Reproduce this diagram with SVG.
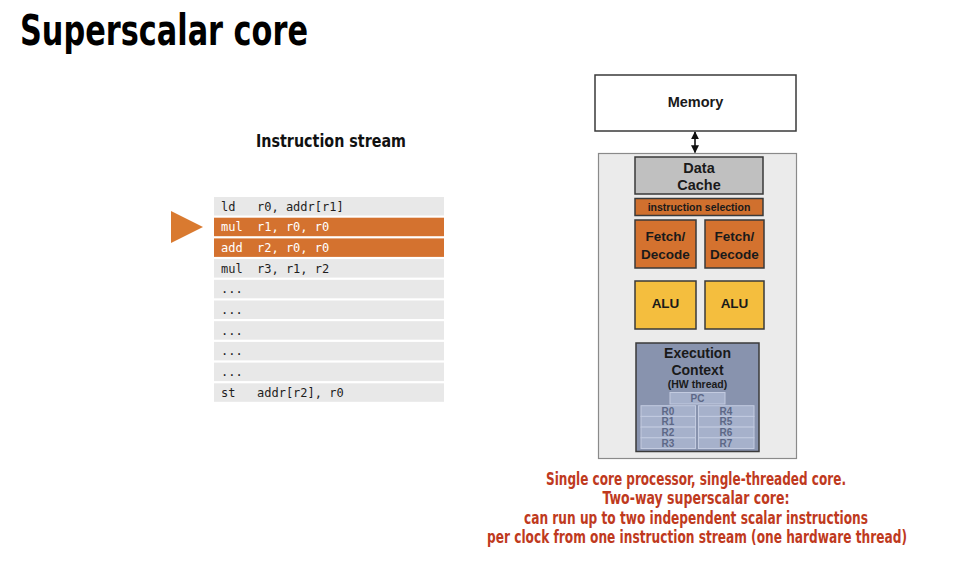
<svg xmlns="http://www.w3.org/2000/svg" width="967" height="561" viewBox="0 0 967 561">
  <defs>
    <style>
      .cond { font-family: "DejaVu Sans", "Liberation Sans", sans-serif; font-stretch: condensed; font-weight: bold; }
      .lbl { font-family: "Liberation Sans", Arial, sans-serif; font-weight: bold; fill: #1a1a1a; text-anchor: middle; }
      .mono { font-family: "DejaVu Sans Mono", "Liberation Mono", monospace; font-size: 12px; fill: #1e1e1e; }
      .hi .mono { fill: #ffffff; }
      .row { fill: #e8e8e8; }
      .hi .row { fill: #d4722f; }
      .box { stroke: #3a3a3a; stroke-width: 1.5; }
      .reg { fill: #a6b1cb; stroke: #c3cbe0; stroke-width: 1; }
      .regtxt { font-family: "Liberation Sans", Arial, sans-serif; font-weight: bold; font-size: 10px; fill: #5d6887; text-anchor: middle; }
      .note { fill: #bf3a1e; font-size: 17px; text-anchor: middle; }
    </style>
    <marker id="head" viewBox="0 0 10 10" refX="9" refY="5" markerWidth="5" markerHeight="5" orient="auto-start-reverse">
      <path d="M0,0 L10,5 L0,10 z" fill="#111"/>
    </marker>
  </defs>

  <rect width="967" height="561" fill="#ffffff"/>

  <!-- slide title -->
  <text class="cond" x="20" y="45" font-size="42" fill="#000" textLength="288" lengthAdjust="spacingAndGlyphs">Superscalar core</text>

  <!-- instruction stream listing -->
  <g id="instruction-stream">
    <text class="cond" x="256" y="147" font-size="18.5" fill="#111" textLength="150" lengthAdjust="spacingAndGlyphs">Instruction stream</text>
    <g id="ins0"><rect class="row" x="214" y="197" width="230" height="18.5"/><text class="mono" x="221" y="210.5">ld</text><text class="mono" x="257" y="210.5">r0, addr[r1]</text></g>
    <g id="ins1" class="hi"><rect class="row" x="214" y="217.7" width="230" height="18.5"/><text class="mono" x="221" y="231.2">mul</text><text class="mono" x="257" y="231.2">r1, r0, r0</text></g>
    <g id="ins2" class="hi"><rect class="row" x="214" y="238.4" width="230" height="18.5"/><text class="mono" x="221" y="251.9">add</text><text class="mono" x="257" y="251.9">r2, r0, r0</text></g>
    <g id="ins3"><rect class="row" x="214" y="259.1" width="230" height="18.5"/><text class="mono" x="221" y="272.6">mul</text><text class="mono" x="257" y="272.6">r3, r1, r2</text></g>
    <g id="ins4"><rect class="row" x="214" y="279.8" width="230" height="18.5"/><text class="mono" x="221" y="293.3">...</text></g>
    <g id="ins5"><rect class="row" x="214" y="300.5" width="230" height="18.5"/><text class="mono" x="221" y="314">...</text></g>
    <g id="ins6"><rect class="row" x="214" y="321.2" width="230" height="18.5"/><text class="mono" x="221" y="334.7">...</text></g>
    <g id="ins7"><rect class="row" x="214" y="341.9" width="230" height="18.5"/><text class="mono" x="221" y="355.4">...</text></g>
    <g id="ins8"><rect class="row" x="214" y="362.6" width="230" height="18.5"/><text class="mono" x="221" y="376.1">...</text></g>
    <g id="ins9"><rect class="row" x="214" y="383.3" width="230" height="18.5"/><text class="mono" x="221" y="396.8">st</text><text class="mono" x="257" y="396.8">addr[r2], r0</text></g>
  </g>

  <!-- current-instruction pointer -->
  <g id="pointer">
    <polygon points="171,211 203,227 171,243" fill="#d97a30"/>
  </g>

  <!-- memory -->
  <g id="memory">
    <rect class="box" x="595" y="75" width="201" height="56" fill="#ffffff"/>
    <text class="lbl" x="695.5" y="107" font-size="14.5">Memory</text>
  </g>

  <!-- memory <-> core link -->
  <g id="connectors">
    <line x1="695" y1="132" x2="695" y2="152.5" stroke="#111" stroke-width="1.6" marker-start="url(#head)" marker-end="url(#head)"/>
  </g>

  <!-- core outline -->
  <g id="core">
    <rect x="598.5" y="153.5" width="198" height="305" fill="#ebebeb" stroke="#8a8a8a" stroke-width="1.2"/>
  </g>

  <g id="data-cache">
    <rect class="box" x="635" y="157" width="128" height="37" fill="#c0c0c0"/>
    <text class="lbl" x="699" y="173" font-size="14.5">Data</text>
    <text class="lbl" x="699" y="189.5" font-size="14.5">Cache</text>
  </g>

  <g id="instruction-selection">
    <rect class="box" x="635" y="198.5" width="128" height="17" fill="#d0702e"/>
    <text class="lbl" x="699" y="210.5" font-size="10.5">instruction selection</text>
  </g>

  <g id="fetch-decode-0">
    <rect class="box" x="635" y="220" width="61" height="48" fill="#d4722f"/>
    <text class="lbl" x="665.5" y="241" font-size="13.5">Fetch/</text>
    <text class="lbl" x="665.5" y="259" font-size="13.5">Decode</text>
  </g>
  <g id="fetch-decode-1">
    <rect class="box" x="705" y="220" width="59" height="48" fill="#d4722f"/>
    <text class="lbl" x="734.5" y="241" font-size="13.5">Fetch/</text>
    <text class="lbl" x="734.5" y="259" font-size="13.5">Decode</text>
  </g>

  <g id="alu-0">
    <rect class="box" x="635" y="281" width="61" height="48" fill="#f4be3e"/>
    <text class="lbl" x="665.5" y="308" font-size="13.5">ALU</text>
  </g>
  <g id="alu-1">
    <rect class="box" x="705" y="281" width="59" height="48" fill="#f4be3e"/>
    <text class="lbl" x="734.5" y="308" font-size="13.5">ALU</text>
  </g>

  <g id="execution-context">
    <rect class="box" x="636" y="343" width="123" height="108.5" fill="#8893ae"/>
    <text class="lbl" x="697.5" y="357.5" font-size="14">Execution</text>
    <text class="lbl" x="697.5" y="374.5" font-size="14">Context</text>
    <text class="lbl" x="697.5" y="388" font-size="10.5">(HW thread)</text>
    <rect class="reg" x="670" y="392.5" width="55" height="11.5"/>
    <text class="regtxt" x="697.5" y="402">PC</text>
    <rect class="reg" x="641" y="405.7" width="54.5" height="10.7"/>
    <rect class="reg" x="641" y="416.4" width="54.5" height="10.7"/>
    <rect class="reg" x="641" y="427.1" width="54.5" height="10.7"/>
    <rect class="reg" x="641" y="437.8" width="54.5" height="10.7"/>
    <rect class="reg" x="698.5" y="405.7" width="55.5" height="10.7"/>
    <rect class="reg" x="698.5" y="416.4" width="55.5" height="10.7"/>
    <rect class="reg" x="698.5" y="427.1" width="55.5" height="10.7"/>
    <rect class="reg" x="698.5" y="437.8" width="55.5" height="10.7"/>
    <text class="regtxt" x="668" y="414.7">R0</text>
    <text class="regtxt" x="668" y="425.4">R1</text>
    <text class="regtxt" x="668" y="436.1">R2</text>
    <text class="regtxt" x="668" y="446.8">R3</text>
    <text class="regtxt" x="726" y="414.7">R4</text>
    <text class="regtxt" x="726" y="425.4">R5</text>
    <text class="regtxt" x="726" y="436.1">R6</text>
    <text class="regtxt" x="726" y="446.8">R7</text>
  </g>

  <!-- caption -->
  <g id="caption" class="cond">
    <text class="note" x="696" y="485" textLength="300" lengthAdjust="spacingAndGlyphs">Single core processor, single-threaded core.</text>
    <text class="note" x="696" y="504" textLength="187" lengthAdjust="spacingAndGlyphs">Two-way superscalar core:</text>
    <text class="note" x="696" y="524" textLength="344" lengthAdjust="spacingAndGlyphs">can run up to two independent scalar instructions</text>
    <text class="note" x="697" y="543" textLength="420" lengthAdjust="spacingAndGlyphs">per clock from one instruction stream (one hardware thread)</text>
  </g>
</svg>
